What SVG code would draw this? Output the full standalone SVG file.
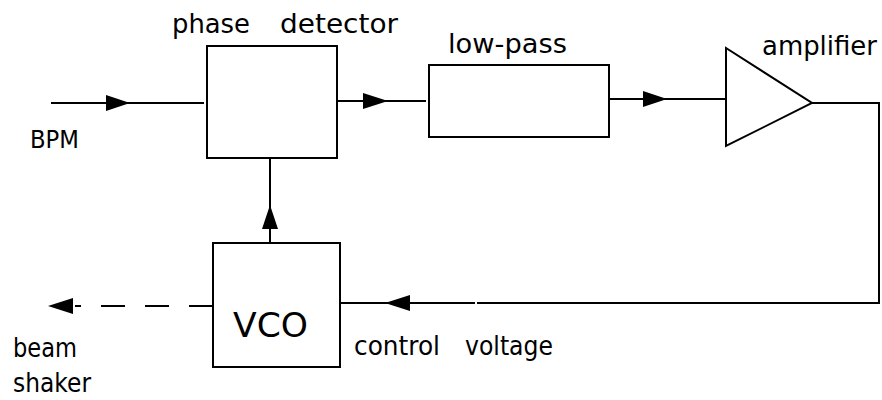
<svg xmlns="http://www.w3.org/2000/svg" width="882" height="400" viewBox="0 0 882 400">
<style>
.box{fill:#fff;stroke:#000;stroke-width:2}
.ln{fill:none;stroke:#000;stroke-width:2}
.dash{fill:none;stroke:#000;stroke-width:2;stroke-dasharray:24 20}
.ah{fill:#000;stroke:none}
text{font-family:"DejaVu Sans","Liberation Sans",Arial,sans-serif;fill:#000}
.t{font-size:26px}
.s{font-size:25px}
.b{font-size:34px}
</style>
<rect width="882" height="400" fill="#fff"/>
<g id="connectors">
<line class="ln" x1="51" y1="103" x2="204" y2="103"/>
<polygon class="ah" points="106,95 130,103 106,111"/>
<line class="ln" x1="337" y1="101" x2="426" y2="101"/>
<polygon class="ah" points="363,93 388,101 363,109"/>
<line class="ln" x1="609" y1="99" x2="731" y2="99"/>
<polygon class="ah" points="643,91 667,99 643,107"/>
<polyline class="ln" points="812,103 879,103 879,303 477,303"/>
<line class="ln" x1="475" y1="303" x2="340" y2="303"/>
<polygon class="ah" points="410,295 385,303 410,311"/>
<line class="ln" x1="270" y1="243" x2="270" y2="158"/>
<polygon class="ah" points="262,229 270,205 278,229"/>
<line class="dash" x1="213" y1="306" x2="75" y2="306"/>
<polygon class="ah" points="73,298 48,306 73,314"/>
</g>
<g id="phase-detector">
<rect class="box" x="207" y="46" width="130" height="112"/>
<text class="t" x="172" y="33" textLength="78" lengthAdjust="spacingAndGlyphs">phase</text>
<text class="t" x="280" y="33" textLength="118" lengthAdjust="spacingAndGlyphs">detector</text>
</g>
<g id="low-pass">
<rect class="box" x="429" y="65" width="180" height="72"/>
<text class="t" x="448" y="53" textLength="119" lengthAdjust="spacingAndGlyphs">low-pass</text>
</g>
<g id="amplifier">
<polygon class="box" points="726,48 726,146 812,103"/>
<text class="t" x="762" y="55" textLength="115" lengthAdjust="spacingAndGlyphs">amplifier</text>
</g>
<g id="vco">
<rect class="box" x="213" y="243" width="127" height="124"/>
<text class="b" x="233" y="337" textLength="75" lengthAdjust="spacingAndGlyphs">VCO</text>
</g>
<g id="labels">
<text class="s" x="30" y="148" textLength="49" lengthAdjust="spacingAndGlyphs">BPM</text>
<text class="t" x="13" y="357" textLength="64" lengthAdjust="spacingAndGlyphs">beam</text>
<text class="t" x="13" y="392" textLength="78" lengthAdjust="spacingAndGlyphs">shaker</text>
<text class="t" x="354" y="355" textLength="86" lengthAdjust="spacingAndGlyphs">control</text>
<text class="t" x="465" y="355" textLength="88" lengthAdjust="spacingAndGlyphs">voltage</text>
</g>
</svg>
